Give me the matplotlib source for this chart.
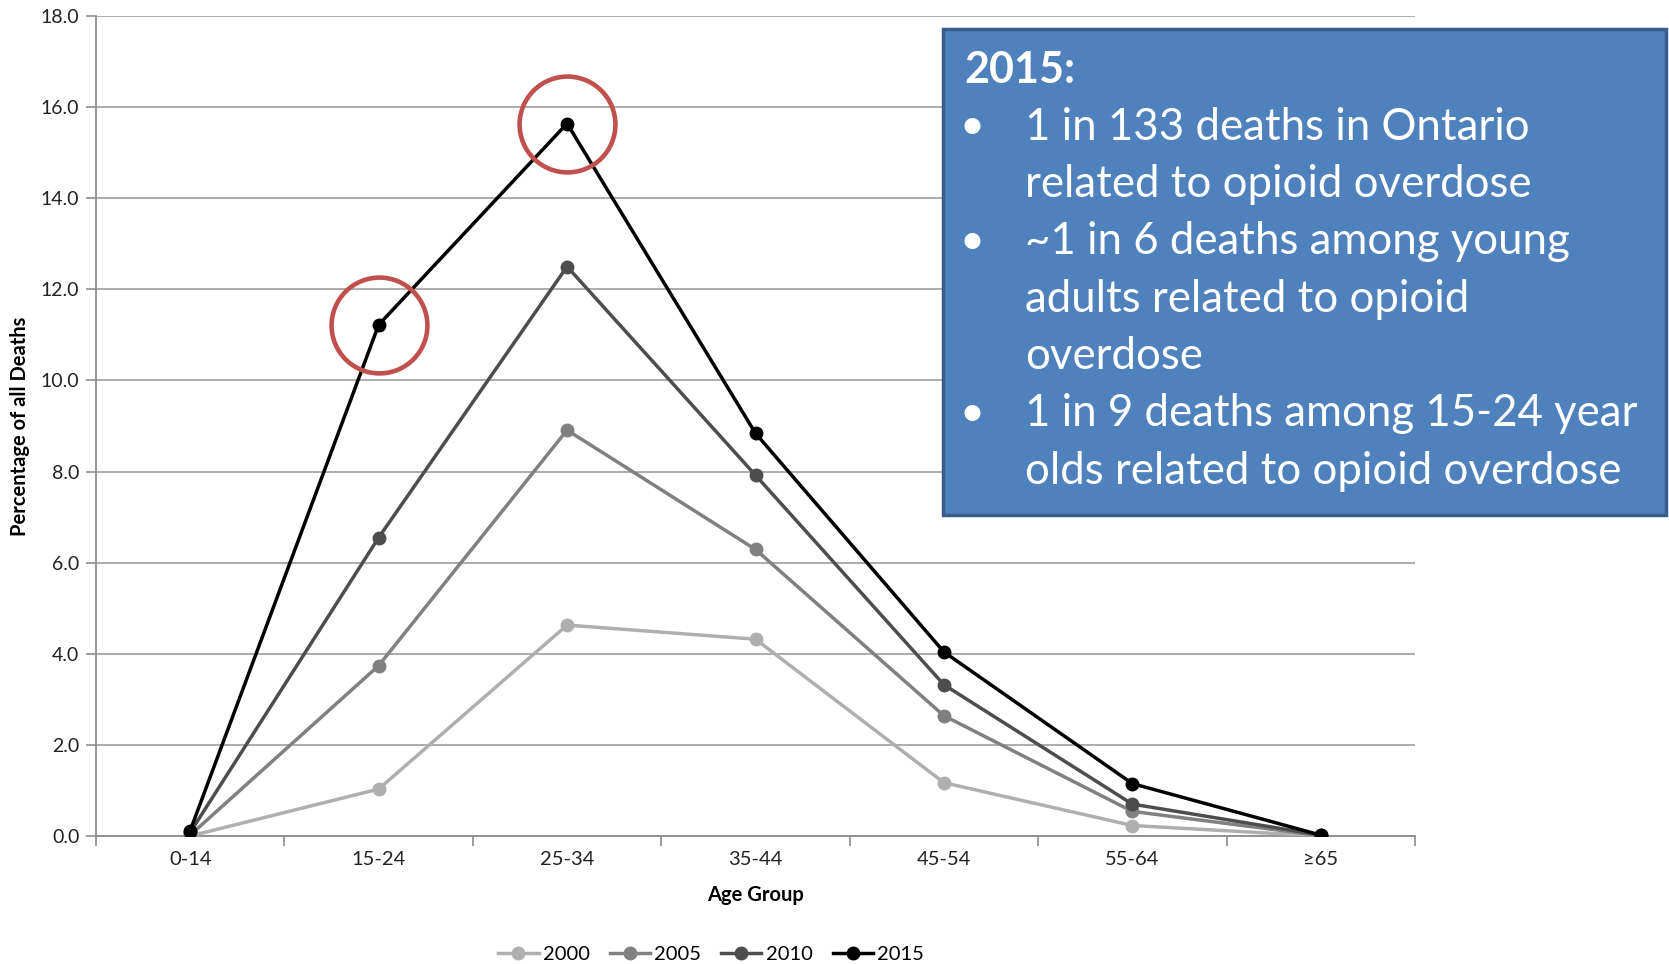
import matplotlib.pyplot as plt
from matplotlib.patches import Rectangle
from matplotlib.ticker import FixedLocator, FormatStrFormatter

plt.rcParams['font.family'] = ['Lato', 'DejaVu Sans']

# data
age_groups = ['0-14', '15-24', '25-34', '35-44', '45-54', '55-64', '\u226565']
years = ['2000', '2005', '2010', '2015']
pct_2000 = [0.0, 1.03, 4.63, 4.32, 1.17, 0.23, 0.0]
pct_2005 = [0.02, 3.74, 8.91, 6.29, 2.64, 0.54, 0.01]
pct_2010 = [0.08, 6.55, 12.5, 7.92, 3.32, 0.70, 0.02]
pct_2015 = [0.12, 11.22, 15.64, 8.84, 4.04, 1.15, 0.02]
series = [pct_2000, pct_2005, pct_2010, pct_2015]
colors = ['#AFAFAF', '#808080', '#4D4D4D', '#000000']

# highlighted points (index into age_groups) on the 2015 line
circled = [1, 2]

box_lines = [
    ('2015:', False),
    ('1 in 133 deaths in Ontario', True),
    ('related to opioid overdose', False),
    ('~1 in 6 deaths among young', True),
    ('adults related to opioid', False),
    ('overdose', False),
    ('1 in 9 deaths among 15-24 year', True),
    ('olds related to opioid overdose', False),
]

W, H = 1669, 964
fig = plt.figure(figsize=(W / 100, H / 100), dpi=100)
ax = fig.add_axes([96 / W, 1 - 836 / H, (1415 - 96) / W, (836 - 16) / H])

x = list(range(len(age_groups)))
for vals, col, yr in zip(series, colors, years):
    ax.plot(x, vals, color=col, lw=2.5, marker='o', markersize=9,
            markeredgecolor=col, markerfacecolor=col, label=yr, zorder=3)

# red circles around the key 2015 points
ax.plot([x[i] for i in circled], [pct_2015[i] for i in circled], ls='none',
        marker='o', markersize=69, markerfacecolor='none',
        markeredgecolor='#C0504D', markeredgewidth=3.3, zorder=4)

ax.set_xlim(-0.5, len(age_groups) - 0.5)
ax.set_ylim(0, 18)
ax.set_yticks([i * 2.0 for i in range(10)])
ax.yaxis.set_major_formatter(FormatStrFormatter('%.1f'))
ax.set_xticks(x)
ax.set_xticklabels(age_groups)
ax.xaxis.set_minor_locator(FixedLocator([i - 0.5 for i in range(len(age_groups) + 1)]))

ax.grid(axis='y', color='#A6A6A6', lw=1.3, zorder=0)
ax.set_axisbelow(True)
for s in ['top', 'right']:
    ax.spines[s].set_visible(False)
for s in ['left', 'bottom']:
    ax.spines[s].set_color('#8C8C8C')
    ax.spines[s].set_linewidth(1.3)

ax.tick_params(axis='x', which='major', length=0, pad=11, labelsize=14.5, labelcolor='#222222')
ax.tick_params(axis='x', which='minor', length=7, width=1.2, color='#8C8C8C')
ax.tick_params(axis='y', length=7, width=1.2, color='#8C8C8C', pad=5,
               labelsize=14, labelcolor='#222222')

ax.set_xlabel('Age Group', fontsize=14.5, fontweight='bold', labelpad=12)
ax.set_ylabel('Percentage of all Deaths', fontsize=14.5, fontweight='bold', labelpad=8)

fig.legend(loc='center', bbox_to_anchor=(711 / W, 1 - 954 / H), ncol=4, frameon=False,
           fontsize=14.5, handlelength=2.0, handletextpad=0.2, columnspacing=1.0,
           borderaxespad=0)

# blue call-out box
fig.patches.append(Rectangle((943 / W, 1 - 515 / H), 723 / W, 486 / H,
                             transform=fig.transFigure, facecolor='#4F81BD',
                             edgecolor='#385D8A', lw=2.5, zorder=5))
line_y = 70
for txt, bullet in box_lines:
    if txt == '2015:':
        fig.text(964 / W, 1 - line_y / H, txt, color='white', fontsize=31,
                 fontweight='bold', va='center', ha='left', zorder=6)
    else:
        if bullet:
            fig.text(972 / W, 1 - line_y / H, '\u2022', color='white', fontsize=31,
                     va='center', ha='center', zorder=6)
        fig.text(1025 / W, 1 - line_y / H, txt, color='white', fontsize=31.5,
                 va='center', ha='left', zorder=6)
    line_y += 57.3

fig.savefig('out.png', dpi=100)
